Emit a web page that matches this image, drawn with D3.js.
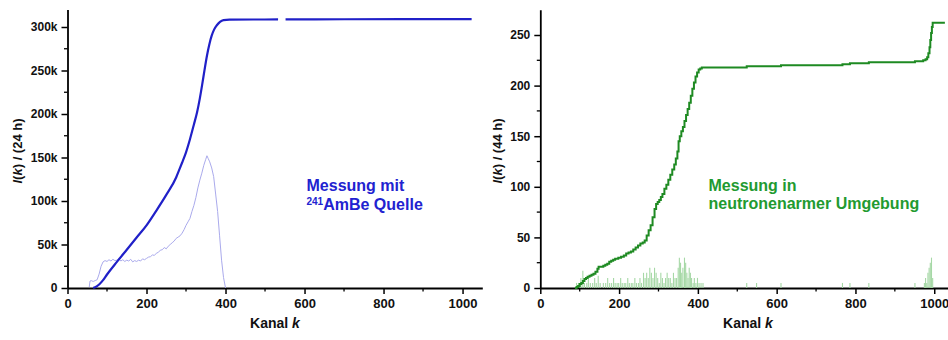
<!DOCTYPE html>
<html><head><meta charset="utf-8">
<script src="https://cdn.jsdelivr.net/npm/d3@7/dist/d3.min.js"></script>
<style>
html,body{margin:0;padding:0;background:#fff;}
svg{display:block;font-family:"Liberation Sans",Arial,sans-serif;font-weight:bold;}
</style></head><body>
<svg id="c" width="948" height="340"></svg>
<script>
// ---------- Left panel data (241AmBe source, 24 h) ----------
const amTicksX = [0, 200, 400, 600, 800, 1000];
const amTicksY = [0, 50000, 100000, 150000, 200000, 250000, 300000];
const amTickLabelsY = ["0", "50k", "100k", "150k", "200k", "250k", "300k"];
// cumulative integral I(k): [channel, counts]; null marks the gap in the curve
const amCumK = [65, 70, 80, 90, 100, 125, 150, 175, 200, 225, 250, 275, 283, 290, 300, 310, 320, 328, 335, 341, 347, 353, 359, 365, 371, 378, 386, 395, 410, 470, 533, 540, 552, 700, 850, 1023];
const amCumV = [0, 800, 4000, 9000, 15500, 30000, 44000, 58000, 72000, 89000, 107000, 127000, 136000, 144000, 156000, 171000, 188000, 202000, 218000, 234000, 251000, 267000, 280000, 290000, 297000, 302000, 306000, 308000, 308500, 308600, 308700, null, 308800, 308900, 309000, 309100];
// pulse-height spectrum (scaled), light curve
const amSpecK = [55, 57, 60, 65, 70, 75, 80, 85, 90, 95, 100, 105, 110, 115, 120, 125, 130, 135, 140, 145, 150, 155, 160, 165, 170, 175, 180, 185, 190, 195, 200, 205, 210, 215, 220, 225, 230, 235, 240, 245, 250, 255, 260, 265, 270, 275, 280, 285, 290, 295, 300, 305, 310, 315, 320, 325, 330, 335, 340, 345, 350, 353, 356, 360, 365, 370, 375, 380, 385, 390, 395, 400];
const amSpecV = [1000, 8000, 8500, 7500, 8500, 9500, 16000, 25000, 30000, 31500, 30500, 32500, 31000, 33000, 31500, 32000, 33500, 31000, 32500, 30500, 32000, 31000, 33000, 30000, 31500, 30500, 32000, 31000, 33500, 32500, 34000, 35500, 36000, 38000, 37500, 40000, 41000, 43500, 44000, 46500, 45000, 48000, 50000, 52000, 54000, 57000, 58500, 60000, 63000, 67000, 72000, 76000, 80000, 88000, 95000, 104000, 115000, 124000, 132000, 141000, 148000, 152000, 149000, 145000, 138000, 128000, 108000, 88000, 60000, 32000, 12000, 0];

// ---------- Right panel data (low-neutron environment, 44 h) ----------
const bgTicksX = [0, 200, 400, 600, 800, 1000];
const bgTicksY = [0, 50, 100, 150, 200, 250];
const bgCumK = [88, 92, 96, 100, 104, 108, 112, 116, 120, 125, 130, 135, 140, 145, 148, 160, 165, 170, 175, 180, 185, 190, 198, 205, 212, 218, 224, 230, 236, 242, 248, 254, 260, 265, 270, 275, 280, 285, 290, 294, 298, 302, 306, 310, 315, 320, 325, 330, 335, 340, 344, 348, 351, 354, 358, 362, 366, 370, 374, 378, 382, 386, 390, 394, 398, 402, 406, 410, 524, 611, 767, 786, 834, 951, 972, 978, 982, 985, 988, 990, 992, 994, 996, 1027];
const bgCumV = [0, 1, 2, 4, 5, 7, 9, 10, 11, 12, 13, 14, 16, 19, 21, 22, 23, 24, 26, 27, 28, 29, 30, 31, 32, 34, 35, 36, 38, 40, 42, 44, 45, 47, 52, 57, 62, 70, 78, 83, 85, 87, 90, 93, 98, 102, 107, 112, 117, 122, 128, 135, 145, 150, 155, 159, 165, 171, 177, 183, 190, 197, 203, 209, 213, 216, 217, 218, 219, 220, 221, 222, 223, 224, 225, 226, 228, 232, 238, 245, 252, 258, 262, 262];
// per-channel histogram (scaled), light bars
const bgHistK = [92, 97, 103, 108, 112, 118, 122, 127, 133, 138, 142, 147, 152, 160, 166, 171, 176, 181, 186, 190, 195, 199, 204, 208, 213, 217, 222, 226, 231, 235, 240, 244, 249, 253, 257, 262, 266, 270, 274, 278, 282, 286, 290, 294, 298, 302, 306, 310, 314, 318, 322, 326, 330, 334, 338, 342, 346, 350, 353, 356, 359, 362, 366, 369, 372, 375, 378, 381, 384, 388, 391, 395, 399, 403, 408, 413, 524, 549, 611, 767, 786, 834, 951, 975, 978, 981, 984, 987, 990, 993, 996];
const bgHistV = [5, 5, 10, 17, 5, 5, 10, 5, 5, 10, 5, 12, 5, 5, 5, 10, 5, 5, 10, 5, 5, 5, 10, 5, 5, 5, 10, 5, 5, 5, 10, 5, 5, 10, 5, 15, 10, 15, 10, 20, 15, 10, 20, 15, 10, 5, 15, 10, 5, 10, 15, 10, 10, 5, 15, 10, 10, 20, 30, 25, 15, 20, 30, 25, 15, 10, 20, 15, 10, 5, 10, 5, 10, 5, 5, 5, 5, 5, 5, 5, 5, 5, 5, 5, 10, 5, 15, 20, 25, 30, 10];

const svg = d3.select("#c");
const font = '"Liberation Sans",Arial,sans-serif';

function panel(opt) {
  const x = d3.scaleLinear().domain(opt.xDomain).range(opt.xRange);
  const y = d3.scaleLinear().domain(opt.yDomain).range([288, opt.yTop]);
  const g = svg.append("g");

  // minor ticks
  const minorX = d3.range(100, opt.xDomain[1], 200);
  g.append("g").selectAll("line").data(minorX).join("line")
    .attr("x1", d => x(d)).attr("x2", d => x(d)).attr("y1", 288).attr("y2", 291.5)
    .attr("stroke", "#000").attr("stroke-width", 1.3);
  g.append("g").selectAll("line").data(opt.minorY).join("line")
    .attr("x1", opt.xRange[0]).attr("x2", opt.xRange[0] - 3.5).attr("y1", d => y(d)).attr("y2", d => y(d))
    .attr("stroke", "#000").attr("stroke-width", 1.3);

  const ax = g.append("g").attr("transform", "translate(0,288)")
    .call(d3.axisBottom(x).tickValues(opt.ticksX).tickFormat(d3.format("d")).tickSize(6).tickPadding(5).tickSizeOuter(0));
  const ay = g.append("g").attr("transform", `translate(${opt.xRange[0]},0)`)
    .call(d3.axisLeft(y).tickValues(opt.ticksY).tickFormat((d, i) => opt.labelsY[i]).tickSize(6).tickPadding(4).tickSizeOuter(0));
  [ax, ay].forEach(a => {
    a.select(".domain").attr("stroke", "#000").attr("stroke-width", 1.8);
    a.selectAll(".tick line").attr("stroke", "#000").attr("stroke-width", 1.5);
    a.selectAll("text").attr("fill", "#111").attr("font-family", font).attr("font-weight", "bold");
  });
  ax.selectAll("text").attr("font-size", 13);
  ay.selectAll("text").attr("font-size", 12);

  // axis titles
  const yl = g.append("text").attr("transform", `translate(${opt.yLabelX},151) rotate(-90)`)
    .attr("text-anchor", "middle").attr("font-size", 13).attr("fill", "#111");
  yl.append("tspan").attr("font-style", "italic").text("I");
  yl.append("tspan").text("(");
  yl.append("tspan").attr("font-style", "italic").text("k");
  yl.append("tspan").text(") / (" + opt.hours + " h)");
  const xl = g.append("text").attr("x", opt.xLabelX).attr("y", 328)
    .attr("text-anchor", "middle").attr("font-size", 14).attr("fill", "#111");
  xl.append("tspan").text("Kanal ");
  xl.append("tspan").attr("font-style", "italic").text("k");
  return {x, y, g};
}

// Left panel
const L = panel({xDomain: [0, 1050], xRange: [67.5, 482.3], yDomain: [0, 320000], yTop: 9.6,
  ticksX: amTicksX, ticksY: amTicksY, labelsY: amTickLabelsY,
  minorY: [25000, 75000, 125000, 175000, 225000, 275000],
  yLabelX: 22, xLabelX: 275, hours: 24});

const spec = amSpecK.map((k, i) => [k, amSpecV[i]]);
L.g.append("path").datum(spec)
  .attr("d", d3.line().x(d => L.x(d[0])).y(d => L.y(d[1])))
  .attr("fill", "none").attr("stroke", "#aaaaec").attr("stroke-width", 1);
const cum = amCumK.map((k, i) => [k, amCumV[i]]);
L.g.append("path").datum(cum)
  .attr("d", d3.line().defined(d => d[1] !== null).curve(d3.curveMonotoneX).x(d => L.x(d[0])).y(d => L.y(d[1])))
  .attr("fill", "none").attr("stroke", "#2020c8").attr("stroke-width", 2.2);

const t1 = L.g.append("g").attr("fill", "#2222d0").attr("font-family", font).attr("font-weight", "bold");
t1.append("text").attr("x", 306.5).attr("y", 190.5).attr("font-size", 16).text("Messung mit");
const t1b = t1.append("text").attr("x", 306.5).attr("y", 209.5).attr("font-size", 16);
t1b.append("tspan").attr("font-size", 10).attr("dy", -5).text("241");
t1b.append("tspan").attr("dy", 5).text("AmBe Quelle");

// Right panel
const R = panel({xDomain: [0, 1040], xRange: [540.3, 950], yDomain: [0, 275], yTop: 9.7,
  ticksX: bgTicksX, ticksY: bgTicksY, labelsY: bgTicksY.map(String),
  minorY: [25, 75, 125, 175, 225],
  yLabelX: 502, xLabelX: 748, hours: 44});

const hist = bgHistK.map((k, i) => [k, bgHistV[i]]);
R.g.append("g").selectAll("line").data(hist).join("line")
  .attr("x1", d => R.x(d[0])).attr("x2", d => R.x(d[0]))
  .attr("y1", R.y(0)).attr("y2", d => R.y(d[1]))
  .attr("stroke", "#a6d8a6").attr("stroke-width", 1.1);
const bcum = bgCumK.map((k, i) => [k, bgCumV[i]]);
R.g.append("path").datum(bcum)
  .attr("d", d3.line().curve(d3.curveStepAfter).x(d => R.x(d[0])).y(d => R.y(d[1])))
  .attr("fill", "none").attr("stroke", "#1e8a22").attr("stroke-width", 2);

const t2 = R.g.append("g").attr("fill", "#229a30").attr("font-family", font).attr("font-weight", "bold").attr("font-size", 16);
t2.append("text").attr("x", 708.5).attr("y", 190.5).text("Messung in");
t2.append("text").attr("x", 708.5).attr("y", 208.5).text("neutronenarmer Umgebung");
</script>
</body></html>
